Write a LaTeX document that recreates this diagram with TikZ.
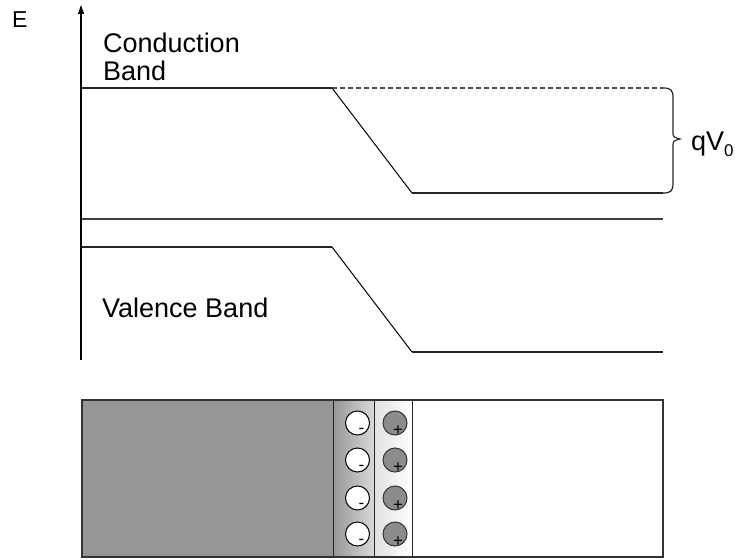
\documentclass[tikz,border=0pt]{standalone}
\usepackage{fontspec}
\setmainfont{Liberation Sans}
\usetikzlibrary{arrows.meta,positioning}
\definecolor{ptype}{RGB}{150,150,150}
\definecolor{ionfill}{RGB}{140,140,140}

\begin{document}
\begin{tikzpicture}[
    x=1pt, y=-1pt,
    axis/.style={draw=black, line width=1.2pt, -{Triangle[length=9pt, width=6pt]}},
    band/.style={draw=black!85, line width=1.3pt},
    slope/.style={draw=black, line width=1pt},
    level/.style={draw=black!75, line width=1.2pt},
    barrier/.style={draw=black!70, line width=1.2pt, dash pattern=on 5pt off 3pt},
    brace/.style={draw=black!85, line width=1.2pt},
    txt/.style={font=\fontsize{27}{29}\selectfont, inner sep=0pt},
    frame/.style={draw=black!80, line width=2pt},
    divider/.style={draw=black!85, line width=1pt},
    negion/.style={circle, draw=black, fill=white, line width=1pt, minimum size=24pt, inner sep=0pt},
    posion/.style={circle, draw=black!80, fill=ionfill, line width=1pt, minimum size=24pt, inner sep=0pt},
    sign/.style={font=\fontsize{17}{17}\selectfont, inner sep=0pt}
]
    \useasboundingbox (0,0) rectangle (735,559);

    % --- Energieachse ---
    \draw[axis] (81,360) -- (81,5);
    \node[txt, font=\fontsize{23}{25}\selectfont, anchor=base west] (elabel) at (12,28) {E};

    % --- Leitungsband ---
    \coordinate (cbL) at (82,88);
    \coordinate (cbK) at (332,88);
    \coordinate (cbB) at (412,193);
    \coordinate (cbR) at (663,193);
    \coordinate (cbD) at (663,88);
    \draw[band] (cbL) -- (cbK);
    \draw[slope] (cbK) -- (cbB);
    \draw[band] (cbB) -- (cbR);
    \draw[barrier] (cbK) -- (cbD);
    \node[txt, anchor=base west] (cbtext) at (103,53) {Conduction};
    \node[txt, anchor=base west] (cbtext2) at (103,81) {Band};

    % Klammer qV0
    \draw[brace] (cbD) .. controls (671,88) and (673,90) .. (673,98) -- (673,132)
        .. controls (673,137) .. (680,139) .. controls (673,141) .. (673,146) -- (673,183)
        .. controls (673,191) and (671,193) .. (cbR);
    \node[txt, anchor=base west] (qvtext) at (691,150) {qV\raisebox{-6pt}{\fontsize{17}{17}\selectfont 0}};

    % --- Ferminiveau ---
    \coordinate (efL) at (82,219);
    \coordinate (efR) at (663,219);
    \draw[level] (efL) -- (efR);

    % --- Valenzband ---
    \coordinate (vbL) at (82,247);
    \coordinate (vbK) at (332,247);
    \coordinate (vbB) at (412,352);
    \coordinate (vbR) at (663,352);
    \draw[band] (vbL) -- (vbK);
    \draw[slope] (vbK) -- (vbB);
    \draw[band] (vbB) -- (vbR);
    \node[txt, anchor=base west] (vbtext) at (102,317) {Valence Band};

    % --- pn-Uebergang ---
    \fill[ptype] (82,400) rectangle (333,557);
    \shade[left color=ptype, right color=black!15] (333,400) rectangle (374,557);
    \shade[left color=black!12, right color=white] (374,400) rectangle (412,557);
    \foreach \xd in {333,374,412} {
        \draw[divider] (\xd,400) -- (\xd,557);
    }
    \draw[frame] (82,400) rectangle (663,557);

    % Raumladungen
    \foreach \yi [count=\i] in {423,460,498,534} {
        \node[negion] (neg\i) at (357.5,\yi) {};
        \node[posion] (pos\i) at (395,\yi) {};
        \node[sign] at ([shift={(4,8)}]neg\i.center) {-};
        \node[sign] at ([shift={(3,8)}]pos\i.center) {+};
    }
\end{tikzpicture}
\end{document}
